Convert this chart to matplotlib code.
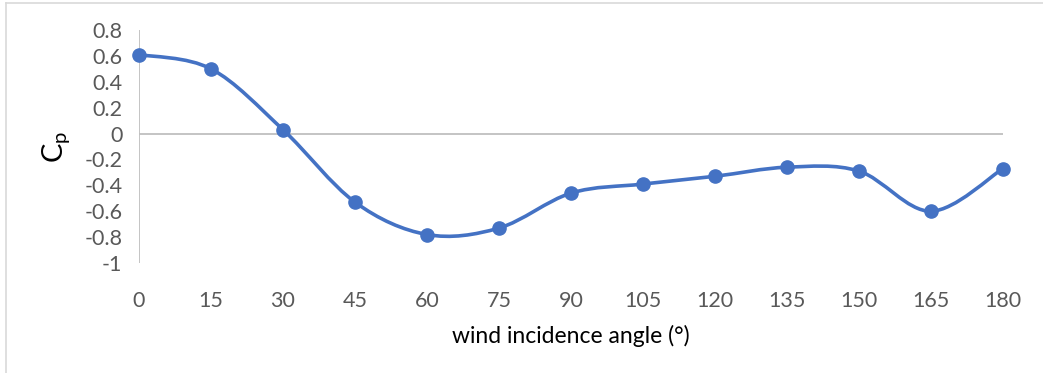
import numpy as np
import matplotlib
matplotlib.use("Agg")
import matplotlib.pyplot as plt
from matplotlib.path import Path
from matplotlib.patches import PathPatch
from matplotlib.lines import Line2D

# pressure coefficient vs wind incidence angle
angles = [0, 15, 30, 45, 60, 75, 90, 105, 120, 135, 150, 165, 180]
cp = [0.61, 0.50, 0.03, -0.53, -0.78, -0.73, -0.46, -0.39, -0.33, -0.26, -0.29, -0.60, -0.27]
yticks = [0.8, 0.6, 0.4, 0.2, 0, -0.2, -0.4, -0.6, -0.8, -1]

blue = "#4472C4"
grey_txt = "#595959"
axis_grey = "#BFBFBF"

plt.rcParams["font.family"] = ["Lato", "DejaVu Sans"]

W, H = 1043, 373
fig = plt.figure(figsize=(W / 100, H / 100), dpi=100)
ax = fig.add_axes([139 / W, 1 - 263 / H, (1003 - 139) / W, (263 - 30) / H])


def smooth_path(xs, ys):
    # excel-like smoothed line: cubic bezier segments, catmull-rom control points
    x = np.asarray(xs, float)
    y = np.asarray(ys, float)
    n = len(x)
    verts = [(x[0], y[0])]
    codes = [Path.MOVETO]
    for i in range(n - 1):
        p0 = (x[max(i - 1, 0)], y[max(i - 1, 0)])
        p1 = (x[i], y[i])
        p2 = (x[i + 1], y[i + 1])
        p3 = (x[min(i + 2, n - 1)], y[min(i + 2, n - 1)])
        c1 = (p1[0] + (p2[0] - p0[0]) / 6, p1[1] + (p2[1] - p0[1]) / 6)
        c2 = (p2[0] - (p3[0] - p1[0]) / 6, p2[1] - (p3[1] - p1[1]) / 6)
        verts += [c1, c2, p2]
        codes += [Path.CURVE4] * 3
    return Path(verts, codes)


ax.add_patch(PathPatch(smooth_path(angles, cp), fill=False, edgecolor=blue,
                       lw=2.6, capstyle="round", zorder=3, clip_on=False))
ax.plot(angles, cp, ls="none", marker="o", ms=9.5, color=blue, zorder=4, clip_on=False)

ax.set_xlim(0, 180)
ax.set_ylim(-1, 0.8)
ax.axhline(0, color=axis_grey, lw=1.3, zorder=1)
ax.axvline(0, color=axis_grey, lw=1.3, zorder=1)
for s in ax.spines.values():
    s.set_visible(False)

ax.set_xticks(angles)
ax.set_xticklabels([str(a) for a in angles])
ax.set_yticks(yticks)
ax.set_yticklabels([f"{v:g}" for v in yticks])
ax.tick_params(length=0, labelsize=15.5, colors=grey_txt)
ax.tick_params(axis="x", pad=20)
ax.tick_params(axis="y", pad=12)

ax.set_xlabel("wind incidence angle (°)", fontsize=16.5, color="black", labelpad=10)
ax.set_ylabel("C$_\\mathregular{p}$", fontsize=21, color="black", labelpad=8)

# chart area frame (top and left edges)
fig.add_artist(Line2D([6 / W, 1], [1 - 3 / H, 1 - 3 / H], color="#D9D9D9", lw=1.2))
fig.add_artist(Line2D([6 / W, 6 / W], [0, 1 - 3 / H], color="#D9D9D9", lw=1.2))

fig.savefig("out.png", dpi=100)
